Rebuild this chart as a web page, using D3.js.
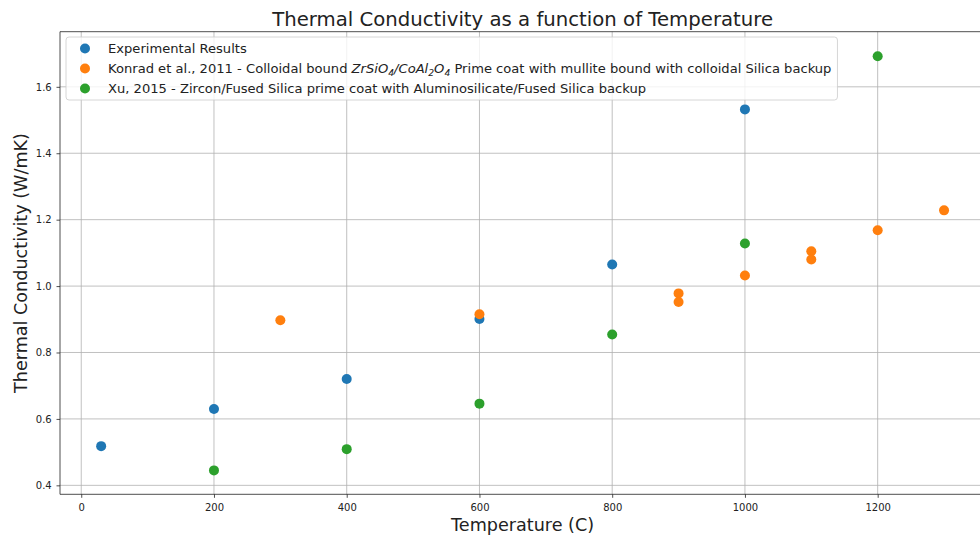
<!DOCTYPE html>
<html>
<head>
<meta charset="utf-8">
<script src="https://cdn.jsdelivr.net/npm/d3@7"></script>
<style>
  html, body { margin: 0; padding: 0; background: #fff; }
  svg { display: block; font-family: "DejaVu Sans", sans-serif; }
</style>
</head>
<body>
<svg id="chart" width="980" height="535"></svg>
<script>
// ---- data ----
const expTemp = [30, 200, 400, 600, 800, 1000];
const expK    = [0.518, 0.630, 0.720, 0.901, 1.065, 1.532];

const konradTemp = [300, 600, 900, 900, 1000, 1100, 1100, 1200, 1300];
const konradK    = [0.897, 0.915, 0.978, 0.952, 1.032, 1.105, 1.080, 1.168, 1.228];

const xuTemp = [200, 400, 600, 800, 1000, 1200];
const xuK    = [0.445, 0.509, 0.646, 0.854, 1.128, 1.692];

const xTicks = [0, 200, 400, 600, 800, 1000, 1200];
const yTicks = [0.4, 0.6, 0.8, 1.0, 1.2, 1.4, 1.6];

const seriesNames = ["Experimental Results", "Konrad", "Xu"];
const colors = ["#1f77b4", "#ff7f0e", "#2ca02c"];

const series = [
  { name: seriesNames[0], color: colors[0], pts: expTemp.map((t, i) => [t, expK[i]]) },
  { name: seriesNames[1], color: colors[1], pts: konradTemp.map((t, i) => [t, konradK[i]]) },
  { name: seriesNames[2], color: colors[2], pts: xuTemp.map((t, i) => [t, xuK[i]]) }
];

// ---- layout ----
const svg = d3.select("#chart");
const pLeft = 60, pTop = 31.7, pBottom = 494.3;
const x = d3.scaleLinear().domain([-32, 1362]).range([pLeft, pLeft + 1394 * 0.6637]);
const y = d3.scaleLinear().domain([0.373, 1.766]).range([pBottom, pTop]);
const pRight = x.range()[1];

const g = svg.append("g");

// grid
g.append("g").selectAll("line").data(xTicks).join("line")
  .attr("x1", d => x(d)).attr("x2", d => x(d))
  .attr("y1", pTop).attr("y2", pBottom)
  .attr("stroke", "#b0b0b0").attr("stroke-width", 0.8);
g.append("g").selectAll("line").data(yTicks).join("line")
  .attr("x1", pLeft).attr("x2", pRight)
  .attr("y1", d => y(d)).attr("y2", d => y(d))
  .attr("stroke", "#b0b0b0").attr("stroke-width", 0.8);

// points
series.forEach(s => {
  g.append("g").selectAll("circle").data(s.pts).join("circle")
    .attr("cx", d => x(d[0])).attr("cy", d => y(d[1]))
    .attr("r", 5).attr("fill", s.color);
});

// axes
const xAxis = d3.axisBottom(x).tickValues(xTicks).tickSize(3.5).tickPadding(6).tickFormat(d3.format("d"));
const yAxis = d3.axisLeft(y).tickValues(yTicks).tickSize(3.5).tickPadding(4.8).tickFormat(d3.format(".1f"));
const gx = svg.append("g").attr("transform", `translate(0,${pBottom})`).call(xAxis);
const gy = svg.append("g").attr("transform", `translate(${pLeft},0)`).call(yAxis);
[gx, gy].forEach(a => {
  a.select(".domain").remove();
  a.selectAll("text").attr("font-size", 10).attr("fill", "#222").attr("font-family", "DejaVu Sans");
  a.selectAll("line").attr("stroke", "#222").attr("stroke-width", 0.8);
});
// spines
const spine = (x1, y1, x2, y2) => svg.append("line").attr("x1", x1).attr("y1", y1).attr("x2", x2).attr("y2", y2)
  .attr("stroke", "#222").attr("stroke-width", 0.8);
spine(pLeft, pTop, pLeft, pBottom);
spine(pLeft, pBottom, pRight, pBottom);
spine(pLeft, pTop, pRight, pTop);
spine(pRight, pTop, pRight, pBottom);

// title & labels
svg.append("text").attr("x", (pLeft + pRight) / 2).attr("y", 25.5).attr("text-anchor", "middle")
  .attr("font-size", 19.7).attr("fill", "#222").text("Thermal Conductivity as a function of Temperature");
svg.append("text").attr("x", (pLeft + pRight) / 2).attr("y", 531).attr("text-anchor", "middle")
  .attr("font-size", 17.6).attr("fill", "#222").text("Temperature (C)");
svg.append("text").attr("transform", `translate(27,${(pTop + pBottom) / 2}) rotate(-90)`).attr("text-anchor", "middle")
  .attr("font-size", 17.6).attr("fill", "#222").text("Thermal Conductivity (W/mK)");

// legend
const lg = svg.append("g");
const box = lg.append("rect").attr("x", 66).attr("y", 37).attr("height", 63).attr("rx", 3)
  .attr("fill", "#fff").attr("fill-opacity", 0.8).attr("stroke", "#cccccc").attr("stroke-width", 0.8);
const rowY = [48.5, 68.5, 88.5];
const texts = [];
series.forEach((s, i) => {
  lg.append("circle").attr("cx", 85).attr("cy", rowY[i]).attr("r", 5).attr("fill", s.color);
  const t = lg.append("text").attr("x", 108).attr("y", rowY[i] + 4.6).attr("font-size", 13.1).attr("fill", "#222");
  texts.push(t);
});
texts[0].text("Experimental Results");
const t1 = texts[1];
t1.append("tspan").text("Konrad et al., 2011 - Colloidal bound ");
const it = (s, dy) => t1.append("tspan").attr("font-style", "italic").attr("dy", dy).text(s);
const sub = (s) => t1.append("tspan").attr("font-size", 9.2).attr("font-style", "italic").attr("dy", 2.7).text(s);
it("ZrSiO", 0); sub("4"); it("/CoAl", -2.7); sub("2"); it("O", -2.7); sub("4");
t1.append("tspan").attr("dy", -2.7).text(" Prime coat with mullite bound with colloidal Silica backup");
texts[2].text("Xu, 2015 - Zircon/Fused Silica prime coat with Aluminosilicate/Fused Silica backup");
const maxW = d3.max(texts, t => t.node().getComputedTextLength());
box.attr("width", 108 - 66 + maxW + 6);
</script>
</body>
</html>
